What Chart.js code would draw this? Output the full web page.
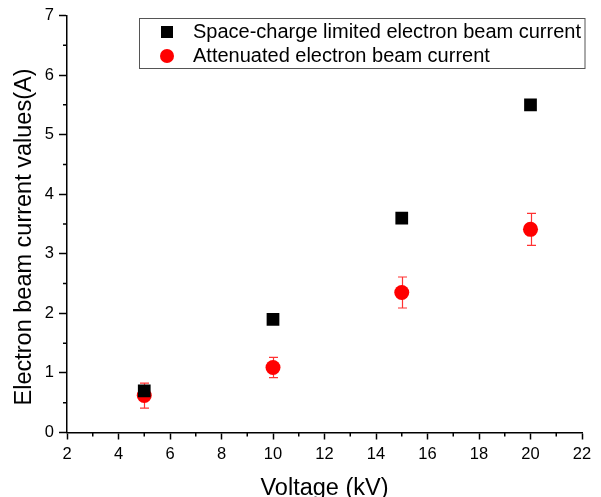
<!DOCTYPE html>
<html>
<head>
<meta charset="utf-8">
<script src="https://cdn.jsdelivr.net/npm/chart.js@4/dist/chart.umd.min.js"></script>
<style>
  html, body { margin: 0; padding: 0; background: #fff; }
  #wrap { width: 601px; height: 497px; }
</style>
</head>
<body>
<div id="wrap"><canvas id="beam_chart" width="601" height="497"></canvas></div>
<script>
const voltage_kv = [5, 10, 15, 20];
const space_charge_current = [0.70, 1.90, 3.60, 5.50];
const attenuated_current = [0.62, 1.09, 2.35, 3.41];
const attenuated_error = [0.21, 0.17, 0.26, 0.27];
const x_minor_ticks = [3, 5, 7, 9, 11, 13, 15, 17, 19, 21];
const y_minor_ticks = [0.5, 1.5, 2.5, 3.5, 4.5, 5.5, 6.5];

const font_name = "'Liberation Sans', Arial, sans-serif";

// error bars, minor ticks, axis titles and legend box
const extras_plugin =
{
    id: "extras",
    beforeDatasetsDraw(chart)
    {
        const ctx = chart.ctx;
        const x = chart.scales.x;
        const y = chart.scales.y;

        ctx.save();
        ctx.strokeStyle = "rgb(255, 50, 50)";
        ctx.lineWidth = 1.2;
        attenuated_current.forEach((v, i) =>
        {
            const px = Math.round(x.getPixelForValue(voltage_kv[i])) + 0.5;
            const top = y.getPixelForValue(v + attenuated_error[i]);
            const bottom = y.getPixelForValue(v - attenuated_error[i]);
            ctx.beginPath();
            ctx.moveTo(px, top);
            ctx.lineTo(px, bottom);
            ctx.moveTo(px - 4.5, top);
            ctx.lineTo(px + 4.5, top);
            ctx.moveTo(px - 4.5, bottom);
            ctx.lineTo(px + 4.5, bottom);
            ctx.stroke();
        });
        ctx.restore();
    },
    afterDraw(chart)
    {
        const ctx = chart.ctx;
        const x = chart.scales.x;
        const y = chart.scales.y;
        const area = chart.chartArea;

        ctx.save();
        ctx.strokeStyle = "#000";
        ctx.lineWidth = 1.5;
        ctx.beginPath();
        x_minor_ticks.forEach(v =>
        {
            const px = x.getPixelForValue(v);
            ctx.moveTo(px, area.bottom);
            ctx.lineTo(px, area.bottom + 4);
        });
        y_minor_ticks.forEach(v =>
        {
            const py = y.getPixelForValue(v);
            ctx.moveTo(area.left, py);
            ctx.lineTo(area.left - 4, py);
        });
        ctx.stroke();

        // axis titles
        ctx.fillStyle = "#000";
        ctx.font = "23.5px " + font_name;
        ctx.textAlign = "center";
        ctx.textBaseline = "alphabetic";
        ctx.fillText("Voltage (kV)", (area.left + area.right) / 2, 495);
        ctx.save();
        ctx.translate(31, 237);
        ctx.rotate(-Math.PI / 2);
        ctx.fillText("Electron beam current values(A)", 0, 0);
        ctx.restore();

        // legend box
        const bx = 139.5;
        const by = 18.5;
        const bw = 585 - bx;
        const bh = 50;
        ctx.fillStyle = "#fff";
        ctx.fillRect(bx, by, bw, bh);
        ctx.strokeStyle = "#555";
        ctx.lineWidth = 1;
        ctx.strokeRect(bx, by, bw, bh);

        ctx.fillStyle = "#000";
        ctx.fillRect(161, 26, 12, 12);
        ctx.fillStyle = "rgb(255, 0, 0)";
        ctx.beginPath();
        ctx.arc(167, 56, 7, 0, Math.PI * 2);
        ctx.fill();

        ctx.fillStyle = "#000";
        ctx.font = "20px " + font_name;
        ctx.textBaseline = "middle";
        ctx.textAlign = "left";
        ctx.fillText("Space-charge limited electron beam current", 193, 32);
        ctx.fillText("Attenuated electron beam current", 193, 56);
        ctx.restore();
    }
};

const beam_chart = new Chart("beam_chart",
{
    type: "scatter",
    data:
    {
        datasets:
        [
            {
                label: "Space-charge limited electron beam current",
                data: voltage_kv.map((v, i) => ({ x: v, y: space_charge_current[i] })),
                pointStyle: "rect",
                pointRadius: 9,
                pointHoverRadius: 9,
                borderWidth: 0,
                backgroundColor: "#000",
                borderColor: "#000"
            },
            {
                label: "Attenuated electron beam current",
                data: voltage_kv.map((v, i) => ({ x: v, y: attenuated_current[i] })),
                pointStyle: "circle",
                pointRadius: 7.5,
                pointHoverRadius: 7.5,
                borderWidth: 0,
                backgroundColor: "rgb(255, 0, 0)",
                borderColor: "rgb(255, 0, 0)"
            }
        ]
    },
    options:
    {
        responsive: false,
        animation: false,
        layout:
        {
            padding: { left: 0, right: 19, top: 15.5, bottom: 0 }
        },
        plugins:
        {
            legend: { display: false },
            tooltip: { enabled: false }
        },
        scales:
        {
            x:
            {
                type: "linear",
                min: 2,
                max: 22,
                afterFit: scale => { scale.height = 64.5; },
                ticks:
                {
                    stepSize: 2,
                    color: "#000",
                    padding: 5,
                    maxRotation: 0,
                    font: { family: font_name, size: 16.5 }
                },
                grid:
                {
                    drawOnChartArea: false,
                    drawTicks: true,
                    tickLength: 7,
                    tickColor: "#000",
                    tickWidth: 1.5
                },
                border: { display: true, color: "#000", width: 1.5 },
                title: { display: false }
            },
            y:
            {
                min: 0,
                max: 7,
                afterFit: scale => { scale.width = 67; },
                ticks:
                {
                    stepSize: 1,
                    color: "#000",
                    padding: 5,
                    font: { family: font_name, size: 16.5 }
                },
                grid:
                {
                    drawOnChartArea: false,
                    drawTicks: true,
                    tickLength: 8,
                    tickColor: "#000",
                    tickWidth: 1.5
                },
                border: { display: true, color: "#000", width: 1.5 },
                title: { display: false }
            }
        }
    },
    plugins: [extras_plugin]
});
</script>
</body>
</html>
